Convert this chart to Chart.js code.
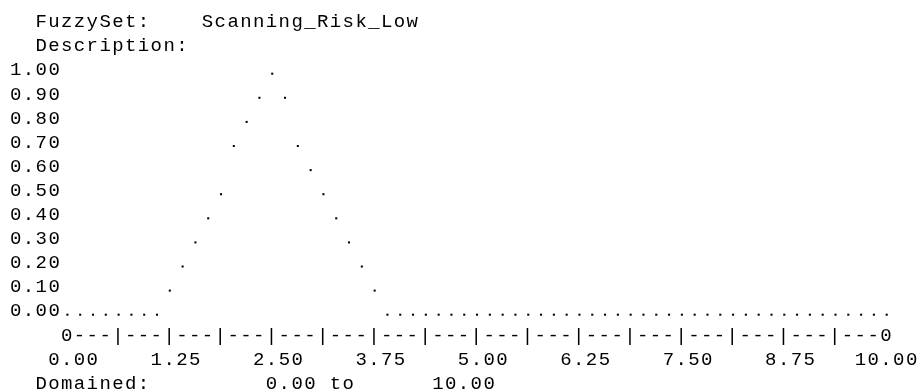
<!DOCTYPE html>
<html>
<head>
<meta charset="utf-8">
<title>FuzzySet: Scanning_Risk_Low</title>
<script src="https://cdn.jsdelivr.net/npm/chart.js@4.4.1/dist/chart.umd.min.js"></script>
<style>
    html, body { margin: 0; padding: 0; background: #fff; }
    #wrap { width: 922px; height: 392px; }
</style>
</head>
<body>
<div id="wrap"><canvas id="fuzzyChart"></canvas></div>
<script>
const setName = 'Scanning_Risk_Low';
const description = '';
const domainMin = 0;
const domainMax = 10;

// tick labels along both axes
const xTicks = [0, 1.25, 2.5, 3.75, 5, 6.25, 7.5, 8.75, 10];
const yTicks = [0, 0.1, 0.2, 0.3, 0.4, 0.5, 0.6, 0.7, 0.8, 0.9, 1];

// one sample per character column of the text plot
const samplePoints = [
    0, 0.15625, 0.3125, 0.46875, 0.625, 0.78125, 0.9375, 1.09375,
    1.25, 1.40625, 1.5625, 1.71875, 1.875, 2.03125, 2.1875, 2.34375,
    2.5, 2.65625, 2.8125, 2.96875, 3.125, 3.28125, 3.4375, 3.59375,
    3.75, 3.90625, 4.0625, 4.21875, 4.375, 4.53125, 4.6875, 4.84375,
    5, 5.15625, 5.3125, 5.46875, 5.625, 5.78125, 5.9375, 6.09375,
    6.25, 6.40625, 6.5625, 6.71875, 6.875, 7.03125, 7.1875, 7.34375,
    7.5, 7.65625, 7.8125, 7.96875, 8.125, 8.28125, 8.4375, 8.59375,
    8.75, 8.90625, 9.0625, 9.21875, 9.375, 9.53125, 9.6875, 9.84375,
    10
];

// membership value as plotted (rounded to the row it lands on)
const membership = [
    0, 0, 0, 0, 0, 0, 0, 0,
    0.1, 0.2, 0.3, 0.4, 0.5, 0.7, 0.8, 0.9,
    1.0, 0.9, 0.7, 0.6, 0.5, 0.4, 0.3, 0.2,
    0.1, 0, 0, 0, 0, 0, 0, 0,
    0, 0, 0, 0, 0, 0, 0, 0,
    0, 0, 0, 0, 0, 0, 0, 0,
    0, 0, 0, 0, 0, 0, 0, 0,
    0, 0, 0, 0, 0, 0, 0, 0,
    0
];

const MONO = "'Liberation Mono', 'Courier New', monospace";
const CHAR_PITCH = 12.8;
// the original uses a thin Courier: smaller glyphs on the same 12.8px pitch
const canSpace = 'letterSpacing' in CanvasRenderingContext2D.prototype;
const FONT_SIZE = canSpace ? 19 : 21.33;
const LETTER_SPACING = canSpace ? CHAR_PITCH - FONT_SIZE * 0.6001 : 0;
const MIDDLE = 0.2665 * FONT_SIZE; // 'middle' -> alphabetic baseline
const monoFont = { family: MONO, size: FONT_SIZE };

// header, the ---|--- ruler and the domain line, laid out on the same character grid
const textLines = {
    id: 'textLines',
    beforeDraw(chart) {
        if (canSpace) chart.ctx.letterSpacing = LETTER_SPACING + 'px';
    },
    afterDraw(chart) {
        const { ctx, scales: { x, y } } = chart;
        const rowH = (y.getPixelForValue(0) - y.getPixelForValue(1)) / 10;
        const charW = (x.getPixelForValue(domainMax) - x.getPixelForValue(domainMin)) / (samplePoints.length - 1);
        const left = x.getPixelForValue(domainMin) - 4.5 * charW;
        const base = 1.8; // dot centre -> text baseline

        let ruler = '';
        for (let c = 0; c < samplePoints.length; c++) {
            if (c === 0 || c === samplePoints.length - 1) ruler += '0';
            else if (c % 4 === 0) ruler += '|';
            else ruler += '-';
        }

        const lines = [
            ['  FuzzySet:    ' + setName, y.getPixelForValue(1) - 2 * rowH],
            ['  Description: ' + description, y.getPixelForValue(1) - rowH],
            ['    ' + ruler, y.getPixelForValue(0) + rowH],
            ['  Domained:' + domainMin.toFixed(2).padStart(13) + ' to' + domainMax.toFixed(2).padStart(11), y.getPixelForValue(0) + 3 * rowH]
        ];

        ctx.save();
        ctx.font = `${FONT_SIZE}px ${MONO}`;
        if (canSpace) ctx.letterSpacing = LETTER_SPACING + 'px';
        ctx.fillStyle = '#000';
        ctx.textAlign = 'left';
        ctx.textBaseline = 'alphabetic';
        lines.forEach(([text, yPos]) => ctx.fillText(text, left, yPos + base));
        ctx.restore();
    }
};

const chart = new Chart(document.getElementById('fuzzyChart').getContext('2d'), {
    type: 'scatter',
    data: {
        datasets: [{
            label: setName,
            data: samplePoints.map((v, i) => ({ x: v, y: membership[i] })),
            pointStyle: 'rect',
            pointRadius: 1.45,
            pointHoverRadius: 1.45,
            backgroundColor: '#000',
            borderWidth: 0,
            clip: false
        }]
    },
    options: {
        responsive: true,
        maintainAspectRatio: false,
        animation: false,
        events: [],
        layout: {
            padding: { left: 9.8, right: 35.3, top: 73.7, bottom: 0 }
        },
        plugins: {
            legend: { display: false },
            tooltip: { enabled: false }
        },
        scales: {
            x: {
                type: 'linear',
                min: domainMin,
                max: domainMax,
                afterBuildTicks: axis => { axis.ticks = xTicks.map(v => ({ value: v })); },
                afterFit: axis => { axis.height = 77.3; },
                // tick marks stay hidden; their length only pushes the labels down one text row
                grid: { display: false, drawTicks: true, tickLength: 365 - MIDDLE - 314.7 - 0.6 * FONT_SIZE },
                border: { display: false },
                ticks: {
                    font: monoFont,
                    color: '#000',
                    padding: 0,
                    maxRotation: 0,
                    autoSkip: false,
                    callback: v => Number(v).toFixed(2).padStart(5, ' ')
                }
            },
            y: {
                type: 'linear',
                min: 0,
                max: 1,
                afterBuildTicks: axis => { axis.ticks = yTicks.map(v => ({ value: v })); },
                afterFit: axis => { axis.width = 57.6; },
                grid: { display: false, drawTicks: false },
                border: { display: false },
                ticks: {
                    font: monoFont,
                    color: '#000',
                    padding: 6.2,
                    labelOffset: 1.8 - MIDDLE,
                    autoSkip: false,
                    callback: v => Number(v).toFixed(2)
                }
            }
        }
    },
    plugins: [textLines]
});
</script>
</body>
</html>
